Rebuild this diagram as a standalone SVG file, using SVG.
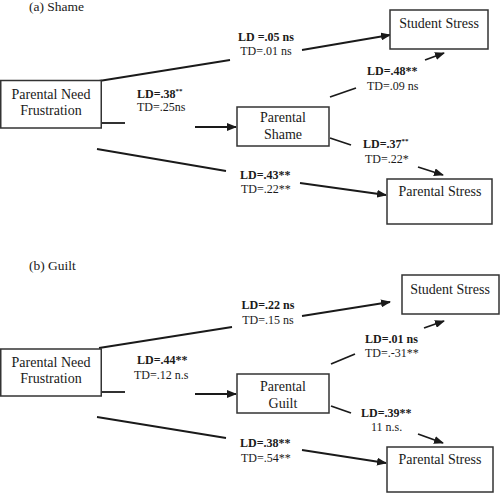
<svg xmlns="http://www.w3.org/2000/svg" width="500" height="493" viewBox="0 0 500 493">
<defs>
<style>
text{font-family:"Liberation Serif","Times New Roman",serif;fill:#1a1a1a}
.t{font-size:13.5px}
.n{font-size:14px;text-anchor:middle}
.l{font-size:12px}
.b{font-weight:bold}
.c{text-anchor:middle}
.sup{font-size:7px;font-weight:bold}
rect{fill:#fff;stroke:#333;stroke-width:1.5}
line{stroke:#1a1a1a;stroke-width:1.8;fill:none}
.a{marker-end:url(#ah)}
</style>
<marker id="ah" markerUnits="userSpaceOnUse" viewBox="0 0 10 8" refX="9" refY="4" markerWidth="10" markerHeight="8" orient="auto">
<path d="M0,0 L10,4 L0,8 Z" fill="#1a1a1a"/>
</marker>
</defs>
<rect x="0" y="0" width="500" height="493" style="fill:#fff;stroke:none"/>

<text class="t" x="29" y="11">(a)  Shame</text>
<text class="t" x="29" y="270">(b)  Guilt</text>

<g id="connectors">
<line x1="99" y1="81" x2="230" y2="60"/>
<line class="a" x1="302" y1="50" x2="390" y2="35"/>
<line x1="101" y1="123" x2="125" y2="123"/>
<line class="a" x1="195" y1="127" x2="236" y2="127"/>
<line x1="97" y1="149" x2="226" y2="171"/>
<line class="a" x1="300" y1="183" x2="386" y2="195"/>
<line x1="330" y1="97" x2="356" y2="88"/>
<line class="a" x1="425" y1="60" x2="444" y2="53"/>
<line x1="330" y1="138" x2="351" y2="145"/>
<line class="a" x1="418" y1="167" x2="443" y2="175"/>

<line x1="99" y1="348" x2="232" y2="327"/>
<line class="a" x1="302" y1="316" x2="390" y2="302"/>
<line x1="101" y1="392" x2="125" y2="392"/>
<line class="a" x1="195" y1="394" x2="236" y2="394"/>
<line x1="97" y1="417" x2="226" y2="438"/>
<line class="a" x1="302" y1="450" x2="386" y2="463"/>
<line x1="331" y1="364" x2="355" y2="354"/>
<line class="a" x1="424" y1="328" x2="444" y2="321"/>
<line x1="331" y1="406" x2="351" y2="413"/>
<line class="a" x1="418" y1="434" x2="443" y2="443"/>
</g>

<g id="labels">
<text class="l b c" x="266" y="41">LD =.05 ns</text>
<text class="l c" x="266" y="55">TD=.01 ns</text>
<text class="l b" x="137" y="98">LD=.38<tspan class="sup" dy="-5">**</tspan></text>
<text class="l" x="137" y="111">TD=.25ns</text>
<text class="l b" x="367" y="75">LD=.48**</text>
<text class="l" x="367" y="90">TD=.09 ns</text>
<text class="l b" x="363" y="148">LD=.37<tspan class="sup" dy="-5">**</tspan></text>
<text class="l" x="365" y="163">TD=.22*</text>
<text class="l b" x="240" y="179">LD=.43**</text>
<text class="l" x="241" y="193">TD=.22**</text>

<text class="l b c" x="268" y="309">LD=.22 ns</text>
<text class="l c" x="268" y="324">TD=.15 ns</text>
<text class="l b" x="137" y="364">LD=.44**</text>
<text class="l" x="134" y="379">TD=.12 n.s</text>
<text class="l b" x="365" y="343">LD=.01 ns</text>
<text class="l" x="365" y="357">TD=.-31**</text>
<text class="l b" x="361" y="417">LD=.39**</text>
<text class="l" x="371" y="431">11 n.s.</text>
<text class="l b" x="240" y="447">LD=.38**</text>
<text class="l" x="241" y="462">TD=.54**</text>
</g>

<g id="a-pnf">
<rect x="0.75" y="80.5" width="100.5" height="47.5"/>
<text class="n" x="51" y="99">Parental Need</text>
<text class="n" x="51" y="115">Frustration</text>
</g>
<g id="a-shame">
<rect x="237" y="107" width="92" height="39"/>
<text class="n" x="283" y="122">Parental</text>
<text class="n" x="283" y="139">Shame</text>
</g>
<g id="a-student">
<rect x="390" y="10" width="98" height="39"/>
<text class="n" x="439" y="28">Student Stress</text>
</g>
<g id="a-pstress">
<rect x="387" y="179" width="105" height="45"/>
<text class="n" x="440" y="196">Parental Stress</text>
</g>

<g id="b-pnf">
<rect x="0.75" y="349" width="100.5" height="47"/>
<text class="n" x="51" y="367">Parental Need</text>
<text class="n" x="51" y="383">Frustration</text>
</g>
<g id="b-guilt">
<rect x="237" y="374" width="92" height="39"/>
<text class="n" x="283" y="391">Parental</text>
<text class="n" x="283" y="408">Guilt</text>
</g>
<g id="b-student">
<rect x="402" y="275" width="97" height="39"/>
<text class="n" x="450" y="294">Student Stress</text>
</g>
<g id="b-pstress">
<rect x="387" y="447" width="106" height="45"/>
<text class="n" x="440" y="464">Parental Stress</text>
</g>
</svg>
